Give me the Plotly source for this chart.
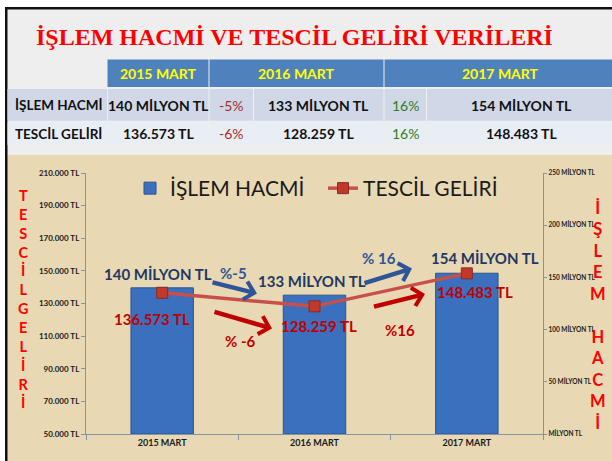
import plotly.graph_objects as go

# ---------------- data ----------------
categories = ["2015 MART", "2016 MART", "2017 MART"]
islem_hacmi = [140, 133, 154]                 # milyon TL
tescil_geliri = [136573, 128259, 148483]      # TL
islem_change = [-5, 16]                       # %
tescil_change = [-6, 16]                      # %
row_labels = ["İŞLEM HACMİ", "TESCİL GELİRİ"]
left_tickvals = [50000, 70000, 90000, 110000, 130000, 150000, 170000, 190000, 210000]
right_tickvals = [0, 50, 100, 150, 200, 250]
title_text = "İŞLEM HACMİ VE TESCİL GELİRİ VERİLERİ"
left_axis_title = "TESCİLGELİRİ"
right_axis_title = "İŞLEM HACMİ"


def fmt_tl(v):
    return f"{v:,}".replace(",", ".") + " TL"


def fmt_mil(v):
    return f"{v} MİLYON TL" if v else "MİLYON TL"


right_ticktext = [fmt_mil(v) for v in right_tickvals]
left_ticktext = [fmt_tl(v) for v in left_tickvals]

# ---------------- geometry helpers (pixel -> paper) ----------------
W, H = 612, 461
L, R, T, B = 86, 543, 173, 434


def px(x):
    return (x - L) / (R - L)


def py(y):
    return (B - y) / (B - T)


FONT = "Lato"
NAVY = "#1F3864"
DARKRED = "#C00000"
BLUE_ARROW = "#2F5597"

fig = go.Figure()

fig.add_trace(go.Bar(
    x=categories, y=islem_hacmi, name="İŞLEM HACMİ", yaxis="y",
    width=0.41,
    marker=dict(color="#3A70BE", line=dict(color="#2B5590", width=1)),
))
fig.add_trace(go.Scatter(
    x=categories, y=tescil_geliri, name="TESCİL GELİRİ", yaxis="y2",
    mode="lines+markers",
    line=dict(color="#C8504A", width=3.5),
    marker=dict(symbol="square", size=11, color="#C0392B",
                line=dict(color="#8C2A25", width=1)),
    cliponaxis=False,
))

annotations = []
shapes = []

# background regions
shapes.append(dict(type="rect", xref="paper", yref="paper", layer="below",
                   x0=px(5), x1=px(W), y0=py(9), y1=py(155),
                   fillcolor="#EEEEEE", line=dict(width=0)))
shapes.append(dict(type="rect", xref="paper", yref="paper", layer="below",
                   x0=px(7), x1=px(W), y0=py(155), y1=py(H),
                   fillcolor="#E8D8B3", line=dict(width=0)))
shapes.append(dict(type="rect", xref="paper", yref="paper", layer="below",
                   x0=px(5), x1=px(W), y0=py(7), y1=py(9.5),
                   fillcolor="#111111", line=dict(width=0)))
shapes.append(dict(type="rect", xref="paper", yref="paper", layer="below",
                   x0=px(5), x1=px(7.5), y0=py(7), y1=py(H),
                   fillcolor="#111111", line=dict(width=0)))

# table
header_cells = [(107.5, 208.5), (209.5, 383.5), (384.5, 620)]
for (x0, x1) in header_cells:
    shapes.append(dict(type="rect", xref="paper", yref="paper", layer="below",
                       x0=px(x0), x1=px(x1), y0=py(59.5), y1=py(87),
                       fillcolor="#4F81BD", line=dict(width=0)))
row_bounds = [(89, 120.7), (121.7, 145)]
row_fill = ["#D0D8E8", "#E9EDF4"]
col_bounds = [(7.5, 107), (108, 208.5), (209.5, 253), (254, 383.5), (384.5, 426), (427, 620)]
for (y0, y1), fc in zip(row_bounds, row_fill):
    for (x0, x1) in col_bounds:
        shapes.append(dict(type="rect", xref="paper", yref="paper", layer="below",
                           x0=px(x0), x1=px(x1), y0=py(y0), y1=py(y1),
                           fillcolor=fc, line=dict(width=0)))


def ann(x, y, text, size, color, family=FONT, weight="bold", xanchor="center"):
    annotations.append(dict(x=px(x), y=py(y), xref="paper", yref="paper",
                            text=text, showarrow=False, xanchor=xanchor,
                            yanchor="middle",
                            font=dict(family=family, size=size, color=color,
                                      weight=weight)))


ann(294, 37, title_text, 24, "#FF0000", family="Liberation Serif")
for cx, c in zip([158, 296.5, 500], categories):
    ann(cx, 73.5, c, 14, "#FFFF00")
row_vals = [[fmt_mil(v) for v in islem_hacmi], [fmt_tl(v) for v in tescil_geliri]]
row_chg = [islem_change, tescil_change]
row_y = [105, 133.5]
for i in range(2):
    ann(13, row_y[i], row_labels[i], 13.5, "#111111", xanchor="left")
    ann(158, row_y[i], row_vals[i][0], 14, "#111111")
    ann(318.5, row_y[i], row_vals[i][1], 14, "#111111")
    ann(521, row_y[i], row_vals[i][2], 14, "#111111")
    for cx, ch in zip([231.5, 405], row_chg[i]):
        col = "#A52A2A" if ch < 0 else "#2E7D1E"
        ann(cx, row_y[i], f"{ch}%", 14, col, weight="normal")

# vertical axis titles
annotations.append(dict(x=px(23), y=py(298.5), xref="paper", yref="paper",
                        text="<br>".join(left_axis_title), showarrow=False,
                        xanchor="center", yanchor="middle",
                        font=dict(family=FONT, size=14.5, color="#FF0000", weight="bold")))
annotations.append(dict(x=px(598), y=py(315), xref="paper", yref="paper",
                        text="<br>".join(right_axis_title), showarrow=False,
                        xanchor="center", yanchor="middle",
                        font=dict(family=FONT, size=16.5, color="#FF0000", weight="bold")))

# bar data labels (above bars)
bar_shift = [(-4, 3), (-3, 3), (18, 4)]
for c, v, (dx, dy) in zip(categories, islem_hacmi, bar_shift):
    annotations.append(dict(x=c, y=v, xref="x", yref="y", text=fmt_mil(v),
                            showarrow=False, xshift=dx, yshift=dy, yanchor="bottom",
                            font=dict(family=FONT, size=15, color=NAVY, weight="bold")))

# line data labels (below markers)
label_shift = [(-10, -26), (4, -20), (8, -19)]
for c, v, (dx, dy) in zip(categories, tescil_geliri, label_shift):
    annotations.append(dict(x=c, y=v, xref="x", yref="y2", text=fmt_tl(v),
                            showarrow=False, xshift=dx, yshift=dy,
                            font=dict(family=FONT, size=15, color=DARKRED, weight="bold")))

# change arrows
arrows = [
    ((211, 282), (257, 293.5), BLUE_ARROW),
    ((363, 283.5), (412, 268.5), BLUE_ARROW),
    ((213, 311.5), (272, 328.5), DARKRED),
    ((372.5, 307), (425, 294), DARKRED),
]
for (tx, ty), (hx, hy), col in arrows:
    annotations.append(dict(x=px(hx), y=py(hy), xref="paper", yref="paper",
                            ax=tx - hx, ay=ty - hy, text="", showarrow=True,
                            arrowhead=4, arrowwidth=4.5, arrowsize=0.8,
                            arrowcolor=col))
ann(233.5, 273, f"%{islem_change[0]}", 15, BLUE_ARROW)
ann(378.5, 258, f"% {islem_change[1]}", 15, BLUE_ARROW)
ann(240, 340.5, f"% {tescil_change[0]}", 15, DARKRED)
ann(400, 330, f"%{tescil_change[1]}", 15, DARKRED)

axis_col = "#8593A8"
fig.update_layout(
    width=W, height=H,
    template="none",
    margin=dict(l=L, r=W - R, t=T, b=H - B, pad=0),
    paper_bgcolor="white",
    plot_bgcolor="rgba(0,0,0,0)",
    separators=",.",
    font=dict(family=FONT, color="#1a1a1a"),
    showlegend=True,
    legend=dict(orientation="h", x=px(130), y=py(168), xanchor="left", yanchor="top",
                bgcolor="rgba(0,0,0,0)", font=dict(family=FONT, size=21, color="#1a1a1a"),
                entrywidth=148, itemwidth=30, traceorder="normal"),
    xaxis=dict(type="category", showline=True, linecolor=axis_col, linewidth=1.2,
               ticks="outside", tickson="boundaries", ticklen=5, tickcolor=axis_col,
               showgrid=False, zeroline=False, automargin=False,
               tickfont=dict(family=FONT, size=9, color="#1a1a1a", weight="bold")),
    yaxis=dict(side="right", range=[0, 250], tickvals=right_tickvals, ticktext=right_ticktext,
               showline=True, linecolor=axis_col, linewidth=1.2, ticks="outside",
               ticklen=3, tickcolor=axis_col, showgrid=False, zeroline=False,
               automargin=False,
               tickfont=dict(family=FONT, size=6.5, color="#1a1a1a", weight="bold")),
    yaxis2=dict(side="left", overlaying="y", range=[50000, 210000],
                tickvals=left_tickvals, ticktext=left_ticktext,
                showline=True, linecolor=axis_col, linewidth=1.2, ticks="outside",
                ticklen=4, tickcolor=axis_col, showgrid=False, zeroline=False,
                automargin=False,
                tickfont=dict(family=FONT, size=8, color="#1a1a1a", weight="bold")),
    shapes=shapes,
    annotations=annotations,
)

fig.write_html("out.html", config={"displayModeBar": False},
               post_script="document.body.style.margin='0';document.body.style.padding='0';")
